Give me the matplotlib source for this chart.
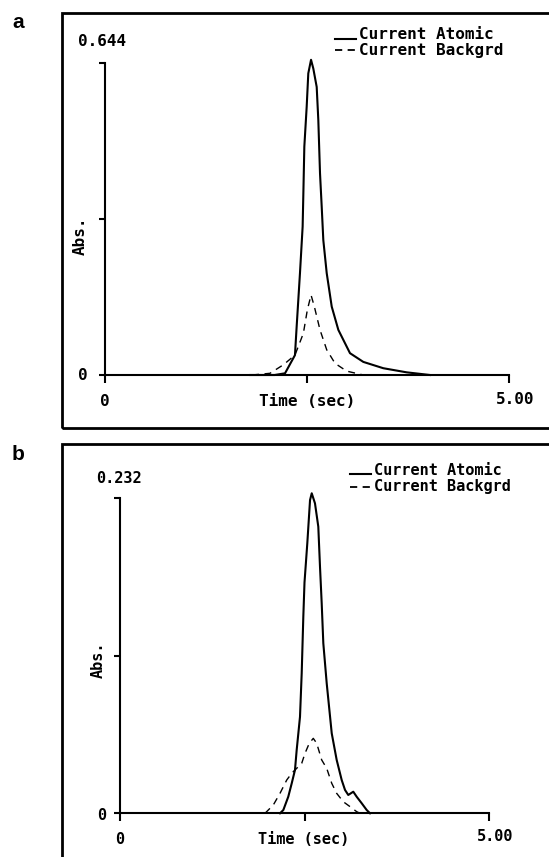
import matplotlib
matplotlib.use('Agg')
import matplotlib.pyplot as plt
from matplotlib.patches import Rectangle
from matplotlib.lines import Line2D

plt.rcParams['font.family'] = ['DejaVu Sans Mono']
plt.rcParams['font.weight'] = 'bold'

W, H = 549, 857

# ---- data ----
panel_letters = ['a', 'b']
y_max = [0.644, 0.232]
y_max_labels = ['0.644', '0.232']
x_max = 5.0
x_max_label = '5.00'
x_label = 'Time (sec)'
y_label = 'Abs.'
legend_labels = ['Current Atomic', 'Current Backgrd']

# panel a
time_a_atomic = [1.80, 2.10, 2.228, 2.351, 2.372, 2.413, 2.446, 2.455, 2.467, 2.496, 2.516,
                 2.550, 2.578, 2.620, 2.640, 2.661, 2.682, 2.702, 2.744, 2.806, 2.888,
                 3.032, 3.197, 3.444, 3.733, 4.022]
abs_a_atomic = [0.0, 0.0, 0.0035, 0.041, 0.100, 0.210, 0.306, 0.375, 0.471, 0.553, 0.622,
                0.650, 0.632, 0.594, 0.526, 0.416, 0.347, 0.278, 0.210, 0.141, 0.093,
                0.045, 0.027, 0.014, 0.0055, 0.0]
time_a_backgrd = [1.82, 2.042, 2.207, 2.351, 2.455, 2.504, 2.550, 2.591, 2.661, 2.744,
                  2.847, 2.991, 3.197]
abs_a_backgrd = [0.0, 0.0035, 0.021, 0.041, 0.086, 0.134, 0.165, 0.141, 0.093, 0.052,
                 0.024, 0.008, 0.0]

# panel b
time_b_atomic = [2.168, 2.213, 2.280, 2.327, 2.371, 2.394, 2.439, 2.462, 2.484, 2.500,
                 2.538, 2.575, 2.598, 2.642, 2.687, 2.710, 2.733, 2.755, 2.801, 2.869,
                 2.936, 3.004, 3.049, 3.093, 3.161, 3.207, 3.275, 3.343, 3.388]
abs_b_atomic = [0.0, 0.0024, 0.0122, 0.0221, 0.0319, 0.0466, 0.0711, 0.1031, 0.1448, 0.1700,
                0.1989, 0.2307, 0.2357, 0.2283, 0.2111, 0.1816, 0.1547, 0.1252, 0.0957, 0.0589,
                0.0393, 0.0245, 0.0172, 0.0135, 0.0159, 0.0122, 0.0074, 0.0024, 0.0]
time_b_backgrd = [1.965, 2.077, 2.168, 2.259, 2.327, 2.462, 2.507, 2.565, 2.619, 2.665,
                  2.733, 2.801, 2.869, 2.936, 3.026, 3.117, 3.207, 3.252]
abs_b_backgrd = [0.0, 0.0061, 0.0147, 0.0245, 0.0295, 0.0368, 0.0442, 0.0516, 0.0552, 0.0516,
                 0.0393, 0.0331, 0.0221, 0.0147, 0.0085, 0.0049, 0.0012, 0.0]

atomic = [(time_a_atomic, abs_a_atomic), (time_b_atomic, abs_b_atomic)]
backgrd = [(time_a_backgrd, abs_a_backgrd), (time_b_backgrd, abs_b_backgrd)]

# ---- layout (pixels) ----
axes_px = [(105, 509, 62.7, 375.0), (120, 489, 498.3, 813.3)]   # left, right, top, bottom
box_px = [(61.7, 12.7, 560, 428.3), (61.7, 444.0, 560, 875)]    # left, top, right, bottom
font_size = [11.5, 11]


def fx(x):
    return x / W


def fy(y):
    return 1 - y / H


fig = plt.figure(figsize=(W / 100, H / 100), dpi=100)

for i in range(2):
    l, r, t, b = axes_px[i]
    fs = font_size[i]

    # outer frame
    bl, bt, br, bb = box_px[i]
    fig.add_artist(Rectangle((fx(bl), fy(bb)), fx(br) - fx(bl), fy(bt) - fy(bb),
                             transform=fig.transFigure, fill=False, lw=2.0,
                             edgecolor='black', clip_on=False))
    fig.text(fx(18), fy(23 if i == 0 else 455), panel_letters[i], family='Liberation Sans',
             fontweight='bold', fontsize=15, ha='center', va='center')

    ax = fig.add_axes([fx(l), fy(b), fx(r) - fx(l), fy(t) - fy(b)])
    ax.set_xlim(0, x_max)
    ax.set_ylim(0, y_max[i])
    ax.patch.set_alpha(0)
    for s in ['top', 'right']:
        ax.spines[s].set_visible(False)
    for s in ['left', 'bottom']:
        ax.spines[s].set_linewidth(1.5)
    ax.set_xticks([0, x_max / 2, x_max])
    ax.set_yticks([0, y_max[i] / 2, y_max[i]])
    ax.set_xticklabels([])
    ax.set_yticklabels([])
    ax.tick_params(axis='x', direction='out', length=5.5, width=1.5)
    ax.tick_params(axis='y', direction='out', length=4, width=1.5)

    ta, ya = atomic[i]
    tb, yb = backgrd[i]
    ax.plot(ta, ya, color='black', lw=1.5, clip_on=False)
    ax.plot(tb, yb, color='black', lw=1.0, linestyle=(0, (5, 4)), clip_on=False)

    # texts
    if i == 0:
        fig.text(fx(78), fy(42), y_max_labels[i], fontsize=fs, ha='left', va='center')
        fig.text(fx(83), fy(375), '0', fontsize=fs, ha='center', va='center')
        fig.text(fx(80), fy(236), y_label, fontsize=fs, rotation=90, ha='center', va='center')
        fig.text(fx(105), fy(401), '0', fontsize=fs, ha='center', va='center')
        fig.text(fx(307), fy(401), x_label, fontsize=fs, ha='center', va='center')
        fig.text(fx(496), fy(399), x_max_label, fontsize=fs, ha='left', va='center')
        leg_x, leg_y = 335, [34.3, 50.0]
    else:
        fig.text(fx(96), fy(478.3), y_max_labels[i], fontsize=fs, ha='left', va='center')
        fig.text(fx(101.7), fy(815), '0', fontsize=fs, ha='center', va='center')
        fig.text(fx(98), fy(660), y_label, fontsize=fs, rotation=90, ha='center', va='center')
        fig.text(fx(120), fy(840), '0', fontsize=fs, ha='center', va='center')
        fig.text(fx(304), fy(840), x_label, fontsize=fs, ha='center', va='center')
        fig.text(fx(477), fy(836.7), x_max_label, fontsize=fs, ha='left', va='center')
        leg_x, leg_y = 350, [470.0, 487.0]

    # legend: short line samples + labels
    fig.add_artist(Line2D([fx(leg_x), fx(leg_x + 21)], [fy(leg_y[0] + 4.5)] * 2,
                          transform=fig.transFigure, color='black', lw=1.5))
    fig.add_artist(Line2D([fx(leg_x), fx(leg_x + 21)], [fy(leg_y[1])] * 2,
                          transform=fig.transFigure, color='black', lw=1.3,
                          linestyle=(0, (4, 3))))
    fig.text(fx(leg_x + 24), fy(leg_y[0]), legend_labels[0], fontsize=fs, ha='left', va='center')
    fig.text(fx(leg_x + 24), fy(leg_y[1]), legend_labels[1], fontsize=fs, ha='left', va='center')

fig.savefig('out.png', dpi=100)
